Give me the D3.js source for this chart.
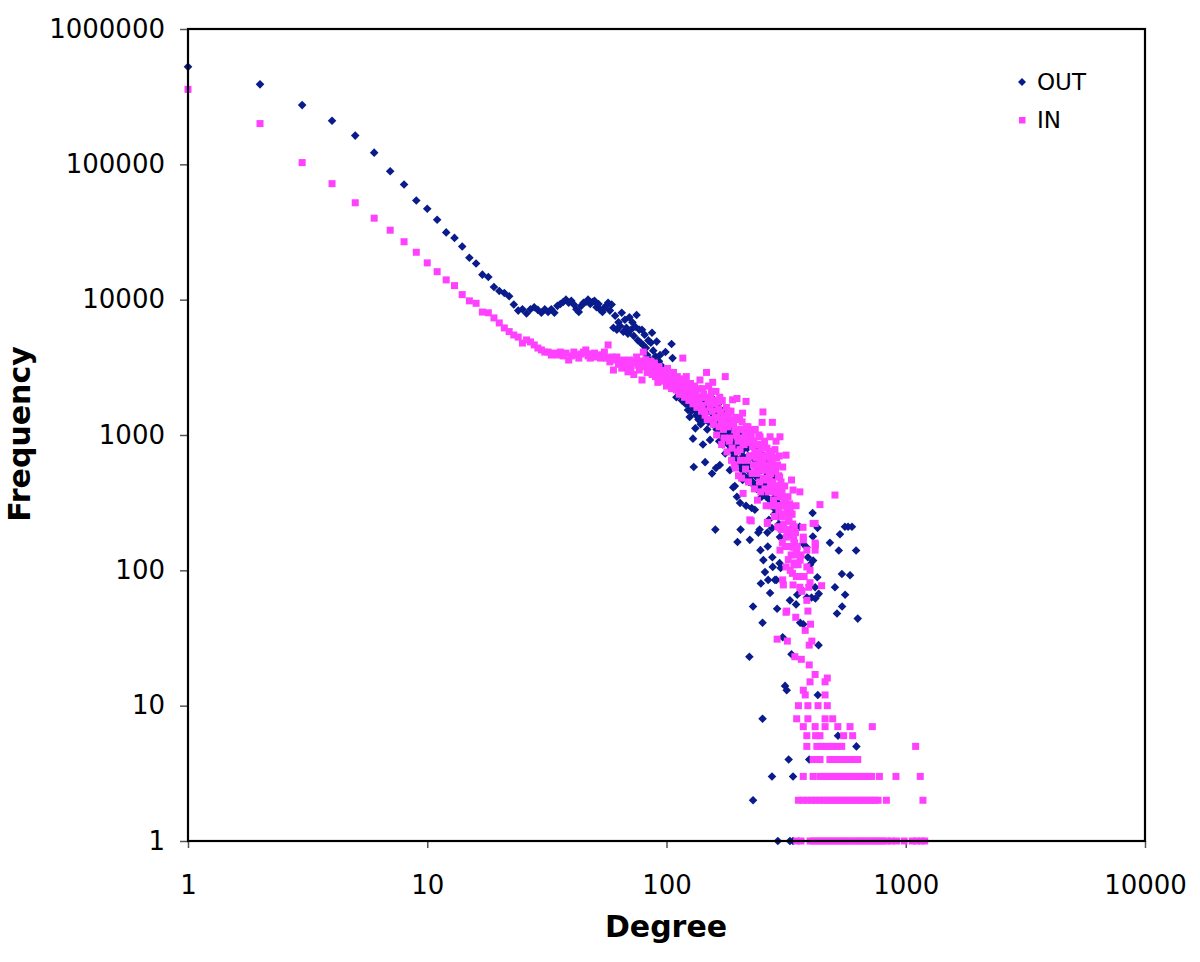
<!DOCTYPE html>
<html><head><meta charset="utf-8">
<script src="https://cdn.jsdelivr.net/npm/d3@7"></script>
<style>
html,body{margin:0;padding:0;background:#fff;}
svg{display:block;}
text{font-family:"DejaVu Sans",Verdana,sans-serif;fill:#000;}
</style></head>
<body>
<svg id="chart" width="1200" height="962"></svg>
<script>
// ---------------- DATA ----------------
const xTickValues = [1, 10, 100, 1000, 10000];
const yTickValues = [1, 10, 100, 1000, 10000, 100000, 1000000];
const seriesNames = ["OUT", "IN"];

// OUT: [degree, frequency]
const outHead = [
  [1,525000],[2,390000],[3,274000],[4,210000],[5,163000],[6,122000],[7,89000],[8,71000],[9,54000],[10,47000],
  [11,39000],[12,31400],[13,28600],[14,24700],[15,20400],[16,18500],[17,15300],[18,14700],[19,12400],[20,11600],
  [21,11200],[22,10600],[23,9200],[24,8300],[25,8500],[26,7900],[27,8500],[28,8800],[29,8400],[30,8000],
  [31,8500],[32,8100],[33,8500],[34,8000],[35,9000],[36,9300],[37,9600],[38,10000],[39,9500],[40,9800],
  [41,9200],[42,8500],[43,8100],[44,9000],[45,9500],[46,9600],[47,10000],[48,9300],[49,9600],[50,9800],
  [51,8800],[52,9300],[53,8400],[54,8100],[55,8700],[56,9000],[57,9500],[58,8300],[59,9200],[60,6200],
  [61,7600],[62,6000],[63,6800],[64,6400],[65,8000],[66,5800],[67,7100],[68,6200],[69,5600],[70,7400],
  [71,6000],[72,6800],[73,5400],[74,6300],[75,7700],[76,5000],[77,6000],[78,4800],[79,6000],[80,4600],
  [81,5500],[82,4400],[83,3900],[84,5000],[85,3600]
];
const outMid = [
  [86,4800],[87,5700],[88,4200],[89,3300],[90,3800],[91,4900],[92,3000],[93,3500],[94,3900],[95,2900],
  [96,3200],[97,2700],[98,3000],[99,4100],[100,2800],[101,2500],[102,3000],[103,2600],[104,2300],[105,4700],
  [106,3700],[107,2400],[108,2600],[109,2200],[110,1900],[111,2300],[112,2100],[113,2000],[114,2150],[115,2400],
  [116,1800],[117,2550],[118,2000],[119,2200],[120,1700],[121,1850],[122,2000],[123,1530],[124,1650],[125,1360],
  [126,1900],[127,1500],[128,1700],[129,940],[130,580],[131,1600],[132,1120],[133,1400],[134,1500],[135,1670],
  [136,1300],[137,1450],[138,1360],[139,1200],[140,1550],[141,1250],[142,850],[143,1400],[144,1800],[145,630],
  [146,1300],[147,1600],[148,1100],[149,1700],[150,1250],[151,1500],[152,920],[153,1300],[154,1900],[155,520],
  [156,1200],[157,1600],[158,1400],[159,1800],[160,200],[161,570],[162,1100],[163,1400],[164,1200],[165,1700],
  [166,900],[167,600],[168,1050],[169,1300],[170,1000],[171,1500],[172,850],[173,1150],[174,1100],[175,1300],
  [176,730],[177,900],[178,1200],[179,1040],[180,1000],[181,850],[182,1300],[183,950],[184,550],[185,1100],
  [186,800],[187,1200],[188,900],[189,750],[190,410],[191,1000],[192,700],[193,420],[194,850],[195,1100],
  [196,750],[197,350],[198,162],[199,800],[200,650],[201,900],[202,600],[203,315],[204,200],[205,750],
  [206,1000],[207,550],[208,465],[209,700],[210,900],[211,500],[212,800],[213,600],[214,1000],[215,300],
  [216,650],[217,480],[218,800],[219,550],[220,700],[221,450],[222,23],[223,168],[224,600],[225,850],
  [226,500],[227,289],[228,700],[229,450],[230,54],[231,600],[232,800],[233,420],[234,280],[235,650],
  [236,500],[237,700],[238,400],[239,550],[240,600],[241,480],[242,190],[243,750],[244,400],[245,200],
  [246,420],[247,141],[248,80],[249,550],[250,350],[251,600],[252,41],[253,450],[254,119],[255,700],
  [256,380],[257,550],[258,97],[259,420],[260,650],[261,350],[262,500],[263,420],[264,190],[265,150],
  [266,85],[267,400],[268,236],[269,600],[270,330],[271,68],[272,450],[273,550],[274,300],[275,480],
  [276,205],[277,125],[278,106],[279,400],[280,300],[281,550],[282,260],[283,420],[284,85],[285,350],
  [286,280],[287,500],[288,85],[289,320],[290,52],[291,250],[293,400],[294,300],[295,220],[296,350],
  [297,113],[298,176],[299,260],[300,104],[306,32],[313,14],[318,13],[328,60],[333,24],
  [348,56],[352,66],[360,210],[362,41],[367,72],[372,158],[373,40],[385,148],[386,63],[390,125],
  [398,110],[404,63],[408,265],[409,178],[410,118],[418,75],[419,62],[427,89],[428,206],[429,12],
  [432,28],[433,67],[482,160],[506,75],[516,48],[521,6],[525,140],[531,185],[541,94],[542,54],
  [557,210],[558,66],[574,210],[585,92],[596,210],[620,140],[622,5],[630,44]
];
const outLow = [
  [252,8],[276,3],[324,4],[338,3],[395,4],[230,2],[292,1],[328,1],[338,1]
];

// IN: [degree, frequency]
const inHead = [
  [1,358000],[2,200000],[3,103000],[4,72000],[5,52000],[6,40000],[7,32600],[8,26800],[9,22400],[10,18700],
  [11,16100],[12,14000],[13,12700],[14,10900],[15,9800],[16,9400],[17,8100],[18,8000],[19,7330],[20,6730],
  [21,6180],[22,5810],[23,5480],[24,5290],[25,4780],[26,5040],[27,4870],[28,4630],[29,4390],[30,4250],
  [31,4100],[32,4100],[33,3900],[34,4030],[35,3900],[36,4100],[37,3840],[38,4030],[39,3580],[40,3840],
  [41,4100],[42,3900],[43,3700],[44,3970],[45,4100],[46,4250],[47,3840],[48,3700],[49,3970],[50,4030],
  [51,3770],[52,3900],[53,3700],[54,3900],[55,4100],[56,3700],[57,4630],[58,3470],[59,3770],[60,3020],
  [61,3580],[62,3770],[63,3330],[64,3470],[65,3120],[66,3580],[67,3270],[68,3470],[69,2930],[70,3580],
  [71,3120],[72,3400],[73,2800],[74,3470],[75,3770],[76,3270],[77,3020],[78,3520],[79,2550],[80,4100],
  [81,3200],[82,3600],[83,2900],[84,3300],[85,3000],[86,3500],[87,2800],[88,3100],[89,3400],[90,2700],
  [91,3000],[92,2450],[93,3200],[94,2800],[95,2600],[96,3000],[97,2500],[98,2900],[99,2700],[100,2300],
  [101,3100],[102,2600],[103,2400],[104,2800],[105,2200],[106,2600],[107,2900],[108,2300],[109,2500],[110,2150],
  [111,2700],[112,2400],[113,2000],[114,2600],[115,2300],[116,2100],[117,3700],[118,2400],[119,1900],[120,2200],
  [121,2700],[122,2000],[123,2300],[124,1800],[125,2100],[126,2400],[127,1900],[128,2200],[129,1700],[130,2000],
  [131,2300],[132,1800],[133,2100],[134,1600],[135,1900],[136,2200],[137,1700],[138,2550],[139,1900],[140,1500]
];
// IN main band, one value per degree starting at degree 141
const inBandStartDegree = 141;
const inBandFreq = [
  1650,2200,2000,1500,1400,1900,2900,1300,1750,2300,
  1300,1600,1900,2100,1500,2450,1200,1800,1700,1350,
  2100,1000,1350,1750,1550,1150,1900,1480,1250,850,
  1800,1300,1100,950,1400,2700,1200,1600,750,1150,
  1500,1350,900,950,1200,1500,650,800,1820,1290,
  1200,600,1090,570,1350,1000,1860,750,900,500,
  1100,1300,780,650,950,480,1250,1450,370,850,
  850,1100,1000,560,1770,1150,650,900,1150,450,
  880,700,236,1050,950,1000,700,520,820,1090,
  600,900,400,750,1100,550,680,850,520,330,
  850,600,1000,720,450,970,630,380,800,550,
  1240,650,1480,480,560,850,900,400,700,600,
  300,465,800,226,550,600,380,760,500,680,
  970,420,520,300,750,650,1240,450,600,330,
  420,560,250,780,380,540,900,680,300,372,
  600,210,420,500,280,700,490,970,350,300,
  450,200,250,380,160,580,300,78,220,340,
  260,420,150,330,200,710,176,50,290,280,
  180,350,120,240,230,150,310,289,100,200,
  260,130,465,180,260,95,220,392,148,170,
  110,210,160,113,130,190,45,300,90,140
];
const inTail = [
  [352,150],[355,110],[358,90],[361,380],[362,119],[365,130],[368,70],[373,176],[376,90],[380,36],
  [386,141],[390,50],[393,75],[395,28],[398,100],[400,40],[405,30],[410,222],[418,159],[419,154],
  [438,306],[445,77],[506,360],
  [290,31],[316,49],[320,30],[344,23],[366,22],[373,13],[380,12],[395,20],[398,15],[418,17],[460,15],[460,12],[470,16],
  [306,85],[316,106],[338,78],[348,113],[361,75],[386,106],[386,60],[398,81],[418,141],[373,168],[298,141],
  [328,289],[372,208],[298,206],[338,192],[418,222],[264,222],[226,232]
];
// IN low-frequency rows: one frequency, many degrees
const inRowFreq = [1, 2, 3, 4, 5, 6, 7, 8, 10];
const inRowDegrees = [
  [350,365,398,412,425,440,455,470,486,502,520,537,555,574,594,615,636,658,680,704,728,752,778,800,832,870,915,985,1065,1110,1160,1200],
  [356,372,388,405,420,437,454,470,488,505,523,542,560,580,600,622,644,666,690,714,740,766,830,1180],
  [373,410,438,455,472,490,508,526,545,565,585,606,628,650,673,697,720,776,910,1150],
  [410,425,438,482,500,518,537,556,576,596,630],
  [386,425,442,460,478,496,515,540,1100],
  [386,420,438,550,600],
  [373,418,460,520,585,725],
  [350,390,460,495],
  [356,390,430,470]
];

// ---------------- CHART ----------------
const svg = d3.select("#chart");
const x = d3.scaleLog().domain([1, 10000]).range([188, 1145]);
const y = d3.scaleLog().domain([1, 1000000]).range([841, 29]);

const outColor = "#0a1c8c";
const inColor = "#ff40ff";

const outData = outHead.concat(outMid, outLow);
const inBand = inBandFreq.map((f, i) => [inBandStartDegree + i, f]);
const inRows = inRowFreq.flatMap((f, i) => inRowDegrees[i].map(d => [d, f]));
const inData = inHead.concat(inBand, inTail, inRows);

const diamond = r => `M0,${-r}L${r},0L0,${r}L${-r},0Z`;

// axes
const yAxis = d3.axisLeft(y).tickValues(yTickValues).tickFormat(d3.format("d")).tickSize(8).tickPadding(15);
const xAxis = d3.axisBottom(x).tickValues(xTickValues).tickFormat(d3.format("d")).tickSize(7).tickPadding(28);

const gy = svg.append("g").attr("transform", "translate(188,0)").call(yAxis);
const gx = svg.append("g").attr("transform", "translate(0,841)").call(xAxis);
[gy, gx].forEach(g => {
  g.select(".domain").remove();
  g.selectAll(".tick line").attr("stroke", "#555").attr("stroke-width", 1.5);
  g.selectAll(".tick text").style("font-size", "26px").style("font-family", '"DejaVu Sans", Verdana, sans-serif');
});

// points: OUT then IN
svg.append("g").selectAll("path").data(outData).join("path")
  .attr("d", diamond(4.3))
  .attr("transform", d => `translate(${x(d[0])},${y(d[1])})`)
  .attr("fill", outColor);

svg.append("g").selectAll("rect").data(inData).join("rect")
  .attr("x", d => x(d[0]) - 3.5)
  .attr("y", d => y(d[1]) - 3.5)
  .attr("width", 7).attr("height", 7)
  .attr("fill", inColor);

// frame
svg.append("rect").attr("x", 188).attr("y", 29).attr("width", 1145 - 188).attr("height", 841 - 29)
  .attr("fill", "none").attr("stroke", "#000").attr("stroke-width", 2.2);

// axis titles
svg.append("text").attr("x", 666).attr("y", 937).attr("text-anchor", "middle")
  .style("font-size", "30px").style("font-weight", "bold").text("Degree");
svg.append("text").attr("transform", "translate(30,434) rotate(-90)").attr("text-anchor", "middle")
  .style("font-size", "30px").style("font-weight", "bold").text("Frequency");

// legend
const lg = svg.append("g");
lg.append("path").attr("d", diamond(4)).attr("transform", "translate(1022,82)").attr("fill", outColor);
lg.append("rect").attr("x", 1019).attr("y", 117).attr("width", 6.5).attr("height", 6.5).attr("fill", inColor);
lg.append("text").attr("x", 1037).attr("y", 90).style("font-size", "23px").text(seriesNames[0]);
lg.append("text").attr("x", 1037).attr("y", 128).style("font-size", "23px").text(seriesNames[1]);
</script>
</body></html>
